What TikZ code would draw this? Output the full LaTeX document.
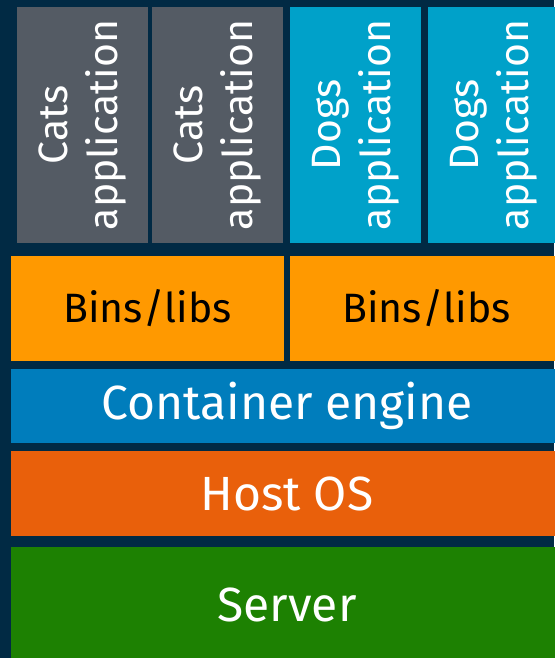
\documentclass[tikz,border=0pt]{standalone}
\usepackage{fontspec}
\setsansfont{Fira Sans}
\renewcommand{\familydefault}{\sfdefault}
\usetikzlibrary{positioning}

\definecolor{bgnavy}{HTML}{012A44}
\definecolor{catgray}{HTML}{545B64}
\definecolor{dogblue}{HTML}{00A1C9}
\definecolor{binorange}{HTML}{FF9900}
\definecolor{engineblue}{HTML}{007DBC}
\definecolor{hostred}{HTML}{E9600B}
\definecolor{servergreen}{HTML}{1D8102}

\begin{document}
\begin{tikzpicture}[x=1pt, y=-1pt,
        app/.style={rotate=90, minimum width=236pt, minimum height=131pt, inner sep=0pt,
            align=center, text=white, font=\fontsize{41}{50}\selectfont},
        bins/.style={fill=binorange, minimum width=273pt, minimum height=105pt, inner sep=0pt,
            font=\fontsize{41}{44}\selectfont},
        layer/.style={minimum width=552pt, inner sep=0pt, text=white,
            font=\fontsize{48}{52}\selectfont}]
        \fill[bgnavy] (0,0) rectangle (554,658);
        \useasboundingbox (0,0) rectangle (554,658);

        % applications
        \node[app, fill=catgray] (cats1) at (82.5,125) {Cats\\application};
        \node[app, fill=catgray] (cats2) at (217.5,125) {Cats\\application};
        \node[app, fill=dogblue] (dogs1) at (355.5,125) {Dogs\\application};
        \node[app, fill=dogblue] (dogs2) at (493.5,125) {Dogs\\application};

        % libraries
        \node[bins] (bins1) at (147.5,308.5) {Bins/libs};
        \node[bins] (bins2) at (426.5,308.5) {Bins/libs};

        % shared layers
        \node[layer, fill=engineblue, minimum height=74pt] (engine) at (287,406) {Container engine};
        \node[layer, fill=hostred, minimum height=85pt] (host) at (287,493.5) {Host OS};
        \node[layer, fill=servergreen, minimum height=116pt] (server) at (287,605) {Server};
    \end{tikzpicture}
\end{document}
